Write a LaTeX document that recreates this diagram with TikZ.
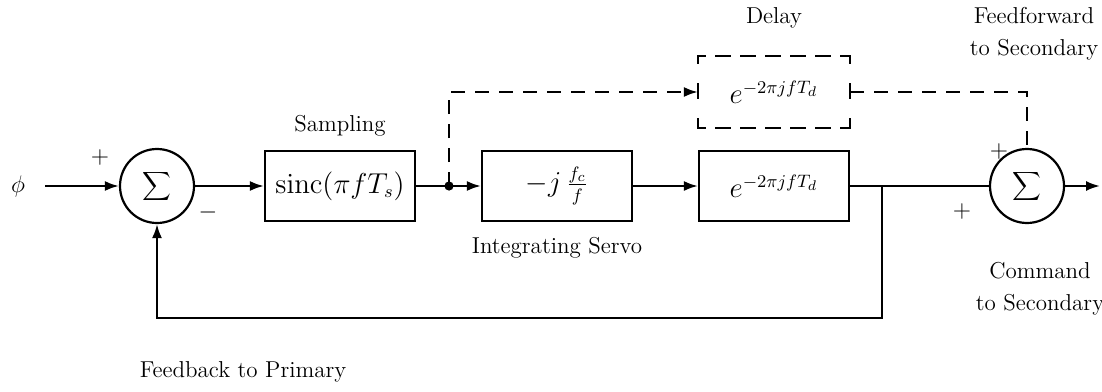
\documentclass[tikz,border=0pt]{standalone}
\usetikzlibrary{arrows.meta}
\begin{document}
\begin{tikzpicture}[x=0.5pt,y=-0.5pt,line width=1.1pt,
  font=\fontsize{11.5}{14}\selectfont,
  blk/.style={draw,minimum width=75pt,minimum height=35pt,inner sep=0pt,
    font=\fontsize{13.5}{16}\selectfont},
  sumnode/.style={draw,circle,minimum size=37pt,inner sep=0pt},
  sig/.style={-{Latex[length=7pt,width=5pt]}},
  dsh/.style={dash pattern=on 7pt off 5pt},
  hside/.style={line cap=rect,dash pattern=on 7pt off 5.5pt,dash phase=3.5pt},
  vside/.style={line cap=rect,dash pattern=on 7pt off 10.5pt,dash phase=3.5pt},
  lbl/.style={align=center,inner sep=0pt}]
\useasboundingbox (0,0) rectangle (1102,391);

% blocks of the loop
\node[sumnode] (s1) at (157,186) {$\displaystyle\sum$};
\node[blk] (samp) at (340,186) {$\mathrm{sinc}(\pi f T_s)$};
\node[blk] (integ) at (557,186) {$-j\,\frac{f_c}{f}$};
\node[blk] (del) at (774,186) {$e^{-2\pi jfT_d}$};
\node[blk,draw=none] (ddel) at (774,92) {$e^{-2\pi jfT_d}$};
\node[sumnode] (s2) at (1027,186) {$\displaystyle\sum$};

% dashed outline of the delay block, a dash centred on every corner
\draw[hside] (ddel.north west) -- (ddel.north east);
\draw[hside] (ddel.south west) -- (ddel.south east);
\draw[vside] (ddel.north west) -- (ddel.south west);
\draw[vside] (ddel.north east) -- (ddel.south east);

% connection points
\coordinate (in) at (45,186);
\coordinate (split) at (449,186);
\coordinate (br) at (882,186);
\coordinate (out) at (1100,186);
\coordinate (bl) at (157,318);
\coordinate (brb) at (882,318);

% forward path
\node[lbl] (phi) at (18,186) {$\phi$};
\draw[sig] (in) -- (s1);
\draw[sig] (s1) -- (samp);
\draw (samp) -- (split);
\draw[sig] (split) -- (integ);
\draw[sig] (integ) -- (del);
\draw (del) -- (s2);
\draw[sig] (s2) -- (out);
\fill (split) circle (2.3pt);

% feedback path
\draw[sig] (br) -- (brb) -- (bl) -- (s1);

% feedforward path through the delay
\draw[sig,dsh] (split) |- (ddel.west);
\draw[dsh] (ddel.east) -| (s2);

% signs
\node[lbl] (p1) at (100,157) {$+$};
\node[lbl] (m1) at (208,212) {$-$};
\node[lbl] (p2) at (999,151) {$+$};
\node[lbl] (p3) at (962,211) {$+$};

% annotations
\node[lbl] (tsamp) at (340,126) {Sampling};
\node[lbl] (tint) at (557,248) {Integrating Servo};
\node[lbl] (tdel) at (774,18) {Delay};
\node[lbl] (tff) at (1034,34) {Feedforward\\[2pt]to Secondary};
\node[lbl] (tcmd) at (1040,289) {Command\\[2pt]to Secondary};
\node[lbl] (tfb) at (243,372) {Feedback to Primary};
\end{tikzpicture}
\end{document}
